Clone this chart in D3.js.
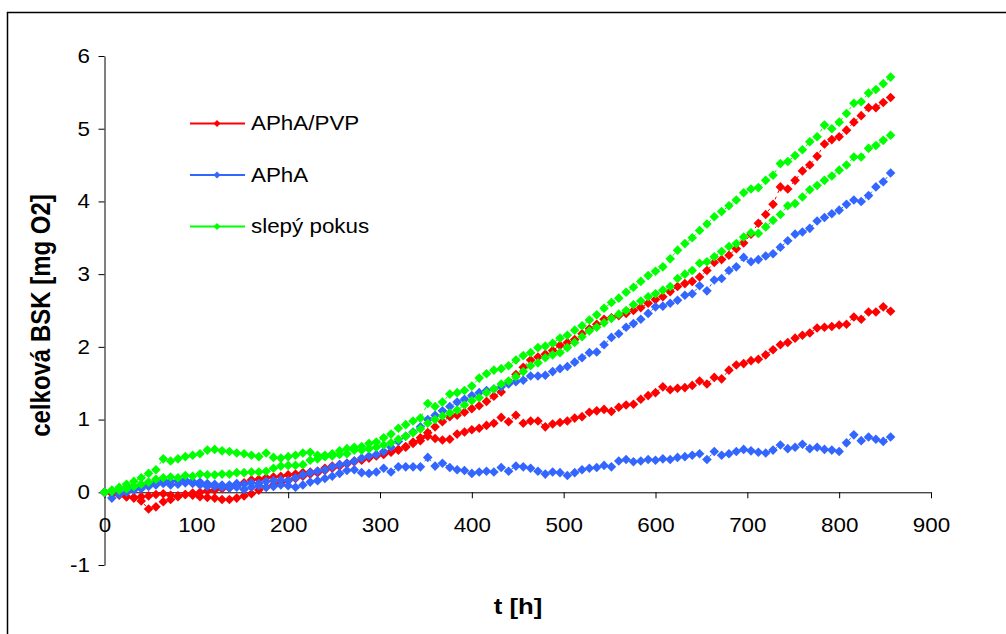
<!DOCTYPE html>
<html>
<head>
<meta charset="utf-8">
<script src="https://cdn.jsdelivr.net/npm/d3@7"></script>
<style>
    body { margin: 0; background: #fff; }
    #chart svg { display: block; }
    .tick text { font-family: "Liberation Sans", Arial, sans-serif; font-size: 20px; fill: #000; }
</style>
</head>
<body>
<div id="chart"></div>
<script>
// time of measurement [h]
const hours = [
    0, 8, 16, 24, 32, 40, 48, 56, 64, 72, 80, 88,
    96, 104, 112, 120, 128, 136, 144, 152, 160, 168, 176, 184,
    192, 200, 208, 216, 224, 232, 240, 248, 256, 264, 272, 280,
    288, 296, 304, 312, 320, 328, 336, 344, 352, 360, 368, 376,
    384, 392, 400, 408, 416, 424, 432, 440, 448, 456, 464, 472,
    480, 488, 496, 504, 512, 520, 528, 536, 544, 552, 560, 568,
    576, 584, 592, 600, 608, 616, 624, 632, 640, 648, 656, 664,
    672, 680, 688, 696, 704, 712, 720, 728, 736, 744, 752, 760,
    768, 776, 784, 792, 800, 808, 816, 824, 832, 840, 848, 856
];

// APhA/PVP - two replicates
const aphaPvp1 = [
    0.00, -0.01, -0.03, -0.06, -0.07, -0.06, -0.05, -0.03, -0.02, -0.04, -0.06, -0.03,
    -0.01, 0.00, 0.02, 0.03, 0.05, 0.06, 0.09, 0.13, 0.17, 0.18, 0.20, 0.21,
    0.22, 0.24, 0.25, 0.27, 0.28, 0.29, 0.33, 0.36, 0.38, 0.40, 0.43, 0.45,
    0.48, 0.51, 0.53, 0.56, 0.59, 0.63, 0.69, 0.75, 0.82, 0.90, 0.97, 1.04,
    1.06, 1.10, 1.15, 1.19, 1.25, 1.32, 1.38, 1.50, 1.62, 1.72, 1.82, 1.86,
    1.90, 1.95, 2.02, 2.06, 2.10, 2.18, 2.25, 2.31, 2.38, 2.40, 2.43, 2.46,
    2.50, 2.54, 2.60, 2.65, 2.69, 2.76, 2.83, 2.87, 2.90, 2.96, 3.05, 3.16,
    3.20, 3.26, 3.35, 3.43, 3.55, 3.70, 3.82, 3.96, 4.20, 4.17, 4.29, 4.42,
    4.50, 4.62, 4.79, 4.85, 4.89, 4.98, 5.09, 5.18, 5.29, 5.29, 5.36, 5.43
];
const aphaPvp2 = [
    0.00, -0.02, -0.04, -0.06, -0.08, -0.12, -0.23, -0.20, -0.13, -0.10, -0.05, -0.03,
    -0.04, -0.06, -0.07, -0.08, -0.10, -0.10, -0.08, -0.05, -0.02, 0.03, 0.07, 0.10,
    0.13, 0.16, 0.19, 0.22, 0.25, 0.27, 0.30, 0.33, 0.36, 0.39, 0.42, 0.44,
    0.47, 0.50, 0.52, 0.55, 0.58, 0.62, 0.67, 0.71, 0.77, 0.74, 0.72, 0.73,
    0.80, 0.83, 0.86, 0.88, 0.92, 0.95, 1.03, 0.97, 1.06, 0.95, 0.98, 0.98,
    0.90, 0.94, 0.96, 0.98, 1.02, 1.04, 1.10, 1.12, 1.14, 1.11, 1.17, 1.20,
    1.21, 1.28, 1.33, 1.37, 1.45, 1.41, 1.43, 1.44, 1.47, 1.53, 1.49, 1.58,
    1.56, 1.68, 1.75, 1.77, 1.81, 1.83, 1.89, 1.96, 2.03, 2.06, 2.12, 2.16,
    2.19, 2.26, 2.27, 2.28, 2.30, 2.31, 2.41, 2.38, 2.48, 2.48, 2.55, 2.49
];

// APhA - two replicates
const apha1 = [
    0.00, 0.02, 0.04, 0.06, 0.08, 0.10, 0.12, 0.13, 0.17, 0.15, 0.16, 0.17,
    0.15, 0.14, 0.12, 0.11, 0.10, 0.10, 0.12, 0.11, 0.13, 0.12, 0.15, 0.16,
    0.17, 0.16, 0.20, 0.24, 0.27, 0.29, 0.31, 0.35, 0.38, 0.40, 0.43, 0.47,
    0.50, 0.52, 0.56, 0.62, 0.70, 0.77, 0.83, 0.90, 1.00, 1.06, 1.12, 1.18,
    1.24, 1.28, 1.33, 1.37, 1.40, 1.42, 1.45, 1.49, 1.52, 1.54, 1.60, 1.60,
    1.61, 1.66, 1.70, 1.73, 1.79, 1.85, 1.92, 1.93, 2.03, 2.13, 2.18, 2.27,
    2.32, 2.38, 2.46, 2.55, 2.56, 2.60, 2.64, 2.71, 2.73, 2.84, 2.77, 2.92,
    2.94, 3.05, 3.10, 3.23, 3.17, 3.20, 3.25, 3.28, 3.37, 3.46, 3.55, 3.58,
    3.63, 3.73, 3.78, 3.83, 3.88, 3.96, 4.02, 4.00, 4.08, 4.20, 4.27, 4.39
];
const apha2 = [
    0.00, -0.08, -0.03, 0.00, 0.03, 0.05, 0.08, 0.10, 0.12, 0.10, 0.11, 0.13,
    0.12, 0.10, 0.08, 0.08, 0.07, 0.06, 0.07, 0.04, 0.07, 0.09, 0.07, 0.08,
    0.10, 0.09, 0.07, 0.10, 0.14, 0.16, 0.19, 0.22, 0.26, 0.30, 0.31, 0.27,
    0.26, 0.28, 0.33, 0.28, 0.35, 0.35, 0.35, 0.35, 0.48, 0.36, 0.40, 0.34,
    0.31, 0.30, 0.26, 0.28, 0.29, 0.28, 0.34, 0.29, 0.36, 0.35, 0.33, 0.29,
    0.25, 0.28, 0.27, 0.23, 0.27, 0.31, 0.33, 0.34, 0.37, 0.35, 0.43, 0.45,
    0.42, 0.43, 0.45, 0.44, 0.46, 0.45, 0.48, 0.49, 0.51, 0.53, 0.45, 0.56,
    0.51, 0.53, 0.56, 0.59, 0.57, 0.55, 0.54, 0.58, 0.65, 0.60, 0.62, 0.66,
    0.60, 0.62, 0.59, 0.58, 0.56, 0.68, 0.79, 0.71, 0.76, 0.73, 0.70, 0.76
];

// slepý pokus (blank) - two replicates
const blank1 = [
    0.00, 0.03, 0.07, 0.11, 0.15, 0.20, 0.26, 0.31, 0.46, 0.43, 0.46, 0.49,
    0.51, 0.53, 0.58, 0.59, 0.57, 0.56, 0.54, 0.53, 0.51, 0.49, 0.54, 0.48,
    0.47, 0.49, 0.51, 0.54, 0.55, 0.51, 0.51, 0.53, 0.57, 0.60, 0.62, 0.63,
    0.67, 0.69, 0.75, 0.80, 0.88, 0.93, 0.98, 1.02, 1.22, 1.18, 1.24, 1.35,
    1.37, 1.40, 1.46, 1.57, 1.63, 1.68, 1.70, 1.74, 1.82, 1.88, 1.92, 1.99,
    2.01, 2.05, 2.12, 2.16, 2.23, 2.29, 2.37, 2.44, 2.53, 2.61, 2.67, 2.75,
    2.82, 2.90, 2.98, 3.04, 3.10, 3.21, 3.33, 3.42, 3.50, 3.60, 3.69, 3.79,
    3.86, 3.94, 4.02, 4.12, 4.17, 4.19, 4.29, 4.36, 4.52, 4.55, 4.63, 4.71,
    4.82, 4.89, 5.05, 5.00, 5.09, 5.21, 5.35, 5.37, 5.49, 5.54, 5.62, 5.71
];
const blank2 = [
    0.00, 0.01, 0.03, 0.05, 0.08, 0.11, 0.14, 0.18, 0.20, 0.21, 0.20, 0.23,
    0.22, 0.25, 0.24, 0.24, 0.25, 0.25, 0.27, 0.27, 0.28, 0.28, 0.29, 0.33,
    0.36, 0.37, 0.37, 0.38, 0.44, 0.46, 0.49, 0.50, 0.52, 0.53, 0.58, 0.58,
    0.60, 0.62, 0.65, 0.68, 0.73, 0.77, 0.82, 0.87, 0.95, 1.00, 1.05, 1.09,
    1.13, 1.20, 1.26, 1.30, 1.37, 1.42, 1.49, 1.53, 1.59, 1.66, 1.74, 1.78,
    1.85, 1.89, 1.92, 1.99, 2.06, 2.14, 2.22, 2.27, 2.33, 2.39, 2.45, 2.50,
    2.58, 2.63, 2.69, 2.73, 2.78, 2.83, 2.94, 3.00, 3.05, 3.15, 3.17, 3.24,
    3.31, 3.38, 3.42, 3.51, 3.57, 3.56, 3.65, 3.74, 3.82, 3.94, 3.97, 4.06,
    4.16, 4.22, 4.29, 4.35, 4.43, 4.50, 4.61, 4.61, 4.73, 4.77, 4.84, 4.91
];

const legendLabels = ['APhA/PVP', 'APhA', 'slepý pokus'];
const colors = ['#ff0000', '#3366ff', '#00ff00'];
const xTicks = [0, 100, 200, 300, 400, 500, 600, 700, 800, 900];
const yTicks = [-1, 0, 1, 2, 3, 4, 5, 6];

// drawing order: red, blue, green on top
const series = [
    {values: aphaPvp1, group: 0},
    {values: aphaPvp2, group: 0},
    {values: apha1, group: 1},
    {values: apha2, group: 1},
    {values: blank1, group: 2},
    {values: blank2, group: 2}
];

const width = 1006;
const height = 634;
const stretch = 1.12; // the original text is slightly wide

const svg = d3.select('#chart')
    .append('svg')
    .attr('width', width)
    .attr('height', height)
    .attr('viewBox', [0, 0, width, height]);

// chart area border
svg.append('rect')
    .attr('x', 7.5)
    .attr('y', 12.5)
    .attr('width', 1100)
    .attr('height', 700)
    .attr('fill', 'none')
    .attr('stroke', '#000')
    .attr('stroke-width', 1.5);

const x = d3.scaleLinear().domain([0, 900]).range([104.5, 931]);
const y = d3.scaleLinear().domain([-1, 6]).range([565, 56]);

// y axis
svg.append('g')
    .attr('transform', `translate(${x(0)},0)`)
    .call(d3.axisLeft(y).tickValues(yTicks).tickSize(6).tickSizeOuter(0).tickPadding(7).tickFormat(d => String(d)))
    .call(g => g.selectAll('path, line').attr('stroke', '#000'))
    .call(g => g.selectAll('.tick text').attr('transform', `scale(${stretch},1)`));

// x axis crossing at y = 0
svg.append('g')
    .attr('transform', `translate(0,${y(0)})`)
    .call(d3.axisBottom(x).tickValues(xTicks).tickSize(6).tickSizeOuter(0).tickPadding(20))
    .call(g => g.selectAll('path, line').attr('stroke', '#000'))
    .call(g => g.selectAll('.tick text').attr('transform', `scale(${stretch},1)`));

const diamond = 'M0,-4.8L4.8,0L0,4.8L-4.8,0Z';
const smallDiamond = 'M0,-3.5L3.5,0L0,3.5L-3.5,0Z';

const line = d3.line()
    .x((d, i) => x(hours[i]))
    .y(d => y(d));

series.forEach(s => {
    const g = svg.append('g');
    g.append('path')
        .datum(s.values)
        .attr('d', line)
        .attr('fill', 'none')
        .attr('stroke', colors[s.group])
        .attr('stroke-width', 1)
        .attr('stroke-dasharray', '3,4');
    g.selectAll('path.marker')
        .data(s.values)
        .join('path')
        .attr('class', 'marker')
        .attr('d', diamond)
        .attr('transform', (d, i) => `translate(${x(hours[i])},${y(d)})`)
        .attr('fill', colors[s.group]);
});

// legend
const legend = svg.append('g');
legendLabels.forEach((label, i) => {
    const ly = 123.5 + i * 51.5;
    legend.append('line')
        .attr('x1', 190).attr('x2', 245)
        .attr('y1', ly).attr('y2', ly)
        .attr('stroke', colors[i])
        .attr('stroke-width', 2);
    legend.append('path')
        .attr('d', smallDiamond)
        .attr('transform', `translate(217,${ly})`)
        .attr('fill', colors[i]);
    legend.append('text')
        .attr('transform', `translate(251,${ly + 6.5}) scale(${stretch},1)`)
        .style('font-family', '"Liberation Sans", Arial, sans-serif')
        .style('font-size', '20px')
        .text(label);
});

// axis titles
svg.append('text')
    .attr('transform', `translate(50,${(188 + 443) / 2}) rotate(-90) scale(1,${stretch})`)
    .attr('text-anchor', 'middle')
    .style('font-family', '"Liberation Sans", Arial, sans-serif')
    .style('font-size', '24px')
    .style('font-weight', 'bold')
    .text('celková BSK [mg O2]');

svg.append('text')
    .attr('transform', `translate(518,614) scale(${stretch},1)`)
    .attr('text-anchor', 'middle')
    .style('font-family', '"Liberation Sans", Arial, sans-serif')
    .style('font-size', '23px')
    .style('font-weight', 'bold')
    .text('t [h]');
</script>
</body>
</html>
